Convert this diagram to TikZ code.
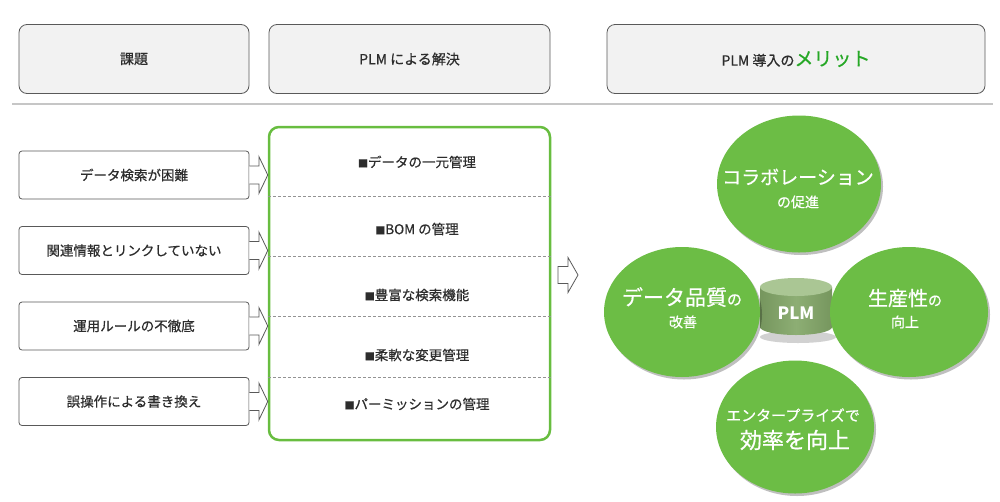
\documentclass[tikz,border=0pt]{standalone}
\usepackage{fontspec}
\setmainfont{Noto Sans CJK JP}[UprightFeatures={FakeBold=0.6}]
\usetikzlibrary{shapes.geometric,shadows,calc}

\definecolor{edgegray}{RGB}{89,89,89}
\definecolor{headfill}{RGB}{242,242,242}
\definecolor{inkgray}{RGB}{45,45,45}
\definecolor{plmgreen}{RGB}{104,189,64}
\definecolor{ballgreen}{RGB}{108,189,69}
\definecolor{meritgreen}{RGB}{38,168,38}
\definecolor{cylbody}{RGB}{141,174,116}
\definecolor{cyldark}{RGB}{118,150,94}
\definecolor{cyltop}{RGB}{170,198,148}

\tikzset{
  headbox/.style={draw=edgegray,line width=.8pt,fill=headfill,rounded corners=8pt,
    minimum height=69pt,inner sep=0pt,text=inkgray,font=\fontsize{14}{16}\selectfont},
  issuebox/.style={draw=edgegray,line width=.8pt,fill=white,rounded corners=3pt,
    minimum width=230pt,minimum height=48pt,inner sep=0pt,text=inkgray,
    font=\fontsize{13.5}{16}\selectfont},
  hollowarrow/.style={draw=edgegray,line width=.8pt,fill=white,line join=miter},
  divider/.style={draw=gray!85,line width=1pt,dash pattern=on 3pt off 2pt},
  item/.style={text=inkgray,font=\fontsize{13.5}{15}\selectfont},
  ball/.style={ellipse,fill=ballgreen,inner sep=0pt,
    drop shadow={shadow xshift=2pt,shadow yshift=-2.5pt,fill=black,opacity=.25}},
  balltext/.style={text=white,inner sep=0pt}
}

\begin{document}
\begin{tikzpicture}[x=1pt,y=-1pt]
\useasboundingbox (0,0) rectangle (1000,501);

% header row
\node[headbox,minimum width=230pt] (hd1) at (134,59) {課題};
\node[headbox,minimum width=281pt] (hd2) at (409.5,59) {PLM による解決};
\node[headbox,minimum width=378pt] (hd3) at (796,59)
  {PLM 導入の{\fontsize{19}{21}\selectfont\color{meritgreen}メリット}};
\draw[gray!45,line width=1.5pt] (12,104) -- (993,104);

% solutions
\node[draw=plmgreen,line width=2.5pt,rounded corners=10pt,minimum width=281pt,
  minimum height=313pt,inner sep=0pt] (sol) at (409.5,283.5) {};
\foreach \y in {196,256,316,377}
  \draw[divider] (sol.west |- 0,\y) -- (sol.east |- 0,\y);
\foreach \y/\t [count=\i] in {162/データの一元管理,229/BOM の管理,295/豊富な検索機能,
    355/柔軟な変更管理,404/パーミッションの管理}
  \node[item] (item\i) at (417,\y) {{\fontsize{10}{10}\selectfont ■}\t};

% issues
\foreach \y/\t [count=\i] in {175/データ検索が困難,250.5/関連情報とリンクしていない,
    326/運用ルールの不徹底,401.5/誤操作による書き換え}{
  \node[issuebox] (is\i) at (134,\y) {\t};
  \draw[hollowarrow] ($(is\i.east)+(0,-9)$) -- ++(9.5,0) -- ++(0,-9.5)
    -- (sol.west |- is\i.east) -- ($(is\i.east)+(9.5,18.5)$) -- ++(0,-9.5)
    -- ($(is\i.east)+(0,9)$);
}

% arrow to merits
\coordinate (go) at (558,275);
\draw[hollowarrow] (go) ++(0,-8.5) -- ++(10,0) -- ++(0,-9) -- ++(10,17.5)
  -- ++(-10,17.5) -- ++(0,-9) -- ++(-10,0) -- cycle;

% PLM cylinder
\fill[black,opacity=.18] (798,337) ellipse (38 and 6);
\shade[left color=cyldark,right color=cyldark,middle color=cylbody]
  (760,287) rectangle (832,327);
\shade[left color=cyldark,right color=cyldark,middle color=cylbody]
  (796,327) ellipse (36 and 8);
\fill[cyltop] (796,287) ellipse (36 and 9);
\node[text=white,font=\bfseries\fontsize{17}{20}\selectfont] (plm) at (796,313) {PLM};

% merits
\node[ball,minimum width=164pt,minimum height=137pt] (colab) at (799,184) {};
\node[ball,minimum width=156pt,minimum height=130pt] (qual) at (682,312) {};
\node[ball,minimum width=158pt,minimum height=130pt] (prod) at (909,312) {};
\node[ball,minimum width=158pt,minimum height=133pt] (ent) at (795,427) {};

\node[balltext,font=\fontsize{19}{21}\selectfont] (colab1) at (798,177) {コラボレーション};
\node[balltext,font=\fontsize{14}{16}\selectfont] (colab2) at (798,202) {の促進};
\node[balltext,font=\fontsize{21}{24}\selectfont] (qual1) at (682,297)
  {データ品質{\fontsize{15}{17}\selectfont の}};
\node[balltext,font=\fontsize{14}{16}\selectfont] (qual2) at (683,322) {改善};
\node[balltext,font=\fontsize{20}{23}\selectfont] (prod1) at (905,298)
  {生産性{\fontsize{14}{16}\selectfont の}};
\node[balltext,font=\fontsize{14}{16}\selectfont] (prod2) at (905,322) {向上};
\node[balltext,font=\fontsize{15}{17}\selectfont] (ent1) at (793,415) {エンタープライズで};
\node[balltext,font=\fontsize{22}{25}\selectfont] (ent2) at (795,440) {効率を向上};
\end{tikzpicture}
\end{document}
